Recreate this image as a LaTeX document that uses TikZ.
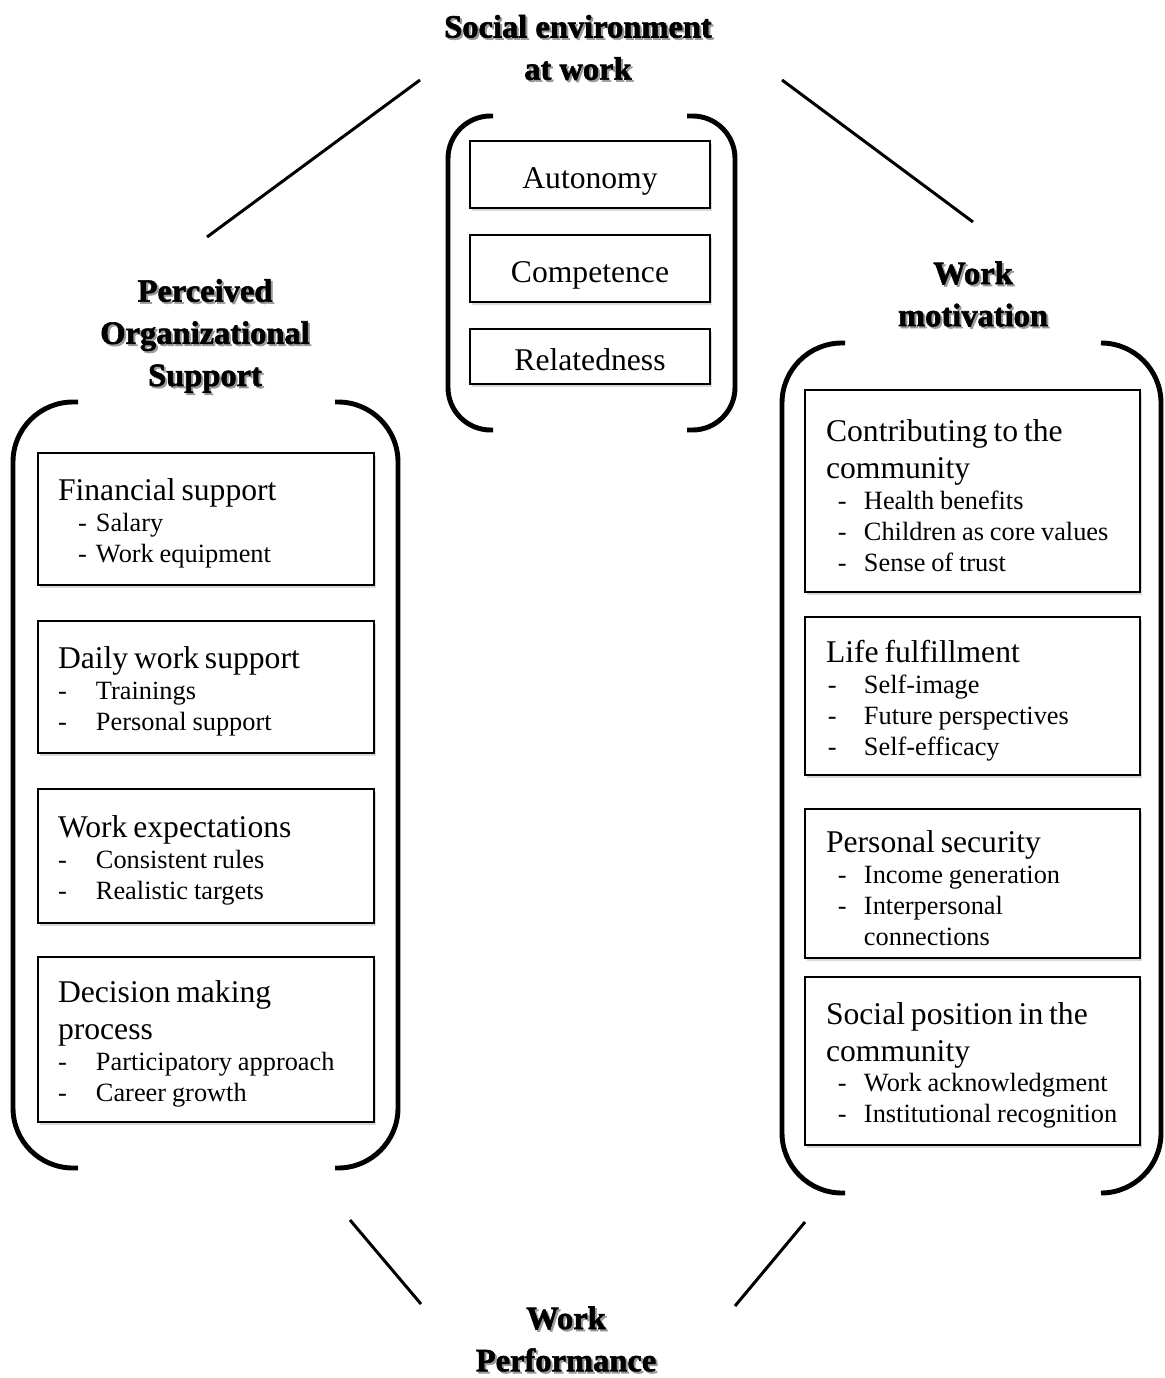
\documentclass[tikz,border=0pt]{standalone}
\usepackage{fontspec}
\setmainfont{Liberation Serif}
\newfontfamily\headfont{Liberation Serif Bold}[FakeBold=1.8]
\usetikzlibrary{shadows}
\newcommand{\boxtitle}[1]{{\fontsize{18}{21}\selectfont #1\par}\fontsize{15}{17.6}\selectfont}
\newcommand{\itm}[2][0pt]{\noindent\makebox[0pt][l]{\hspace*{#1}-}\hspace*{21.6pt}\mbox{#2}\par}
\newcommand{\itmcont}[1]{\noindent\hspace*{21.6pt}\mbox{#1}\par}
\newcommand{\shadowhead}[3]{%
  \node[heading,text=black!40] at ([shift={(2,2)}]#2) {#3};
  \node[heading] (#1) at (#2) {#3};}
\tikzset{
  heading/.style = {font=\headfont\fontsize{18.5}{24}\selectfont, align=center},
  bracket/.style = {line width=2.8pt},
  link/.style = {line width=1.7pt},
  framebox/.style = {draw, line width=0.8pt, fill=white,
    drop shadow={shadow xshift=1.2pt, shadow yshift=-1.5pt, opacity=0.3}},
  needbox/.style = {framebox, minimum width=4.8cm, text height=16pt, text depth=0pt,
    font=\fontsize{18}{21}\selectfont},
  listbox/.style = {framebox, align=left, execute at end node={\par\kern-5pt}},
  leftbox/.style = {listbox, inner xsep=0.4cm, text width=5.92cm},
  rightbox/.style = {listbox, inner xsep=0.42cm, text width=5.86cm}
}

\begin{document}
\begin{tikzpicture}[x=0.02cm,y=-0.02cm]
  \useasboundingbox (0,0) rectangle (1165,1378);
  % headings
  \shadowhead{soc}{578,47.5}{Social environment\\at work}
  \shadowhead{pos}{205,336}{Perceived\\Organizational\\Support}
  \shadowhead{wm}{973,294}{Work\\motivation}
  \shadowhead{wp}{566,1339}{Work\\Performance}
  % basic needs
  \draw[bracket,rounded corners=0.85cm] (493,116) -| (448,430) -- (493,430);
  \draw[bracket,rounded corners=0.85cm] (687,116) -| (735,430) -- (687,430);
  \node[needbox,minimum height=1.34cm] (aut) at (590,174.5) {Autonomy};
  \node[needbox,minimum height=1.34cm] (com) at (590,268.5) {Competence};
  \node[needbox,minimum height=1.1cm] (rel) at (590,356.5) {Relatedness};
  % organizational support
  \draw[bracket,rounded corners=1.2cm] (78,402) -| (13,1168) -- (78,1168);
  \draw[bracket,rounded corners=1.2cm] (335,402) -| (398,1168) -- (335,1168);
  \node[leftbox,minimum height=2.64cm] (fin) at (206,519)
    {\boxtitle{Financial support}\itm[11.4pt]{Salary}\itm[11.4pt]{Work equipment}};
  \node[leftbox,minimum height=2.64cm] (daily) at (206,687)
    {\boxtitle{Daily work support}\itm{Trainings}\itm{Personal support}};
  \node[leftbox,minimum height=2.68cm] (exp) at (206,856)
    {\boxtitle{Work expectations}\itm{Consistent rules}\itm{Realistic targets}};
  \node[leftbox,minimum height=3.3cm] (dec) at (206,1039.5)
    {\boxtitle{Decision making\newline process}\itm{Participatory approach}\itm{Career growth}};
  % motivation
  \draw[bracket,rounded corners=1.2cm] (845,343) -| (782,1193) -- (845,1193);
  \draw[bracket,rounded corners=1.2cm] (1103,343) -| (1161,1193) -- (1103,1193);
  \node[rightbox,minimum height=4.04cm] (contr) at (972.5,491)
    {\boxtitle{Contributing to the\newline community}\itm[6.8pt]{Health benefits}\itm[6.8pt]{Children as core values}\itm[6.8pt]{Sense of trust}};
  \node[rightbox,minimum height=3.16cm] (life) at (972.5,696)
    {\boxtitle{Life fulfillment}\itm[1pt]{Self-image}\itm[1pt]{Future perspectives}\itm[1pt]{Self-efficacy}};
  \node[rightbox,minimum height=2.98cm] (sec) at (972.5,883.5)
    {\boxtitle{Personal security}\itm[6.8pt]{Income generation}\itm[6.8pt]{Interpersonal}\itmcont{connections}};
  \node[rightbox,minimum height=3.36cm] (spos) at (972.5,1061)
    {\boxtitle{Social position in the\newline community}\itm[6.8pt]{Work acknowledgment}\itm[6.8pt]{Institutional recognition}};
  % links
  \coordinate (a1) at (420,80);  \coordinate (a2) at (207,237);
  \coordinate (b1) at (782,80);  \coordinate (b2) at (973,222);
  \coordinate (c1) at (350,1220); \coordinate (c2) at (421,1304);
  \coordinate (d1) at (805,1222); \coordinate (d2) at (735,1306);
  \draw[link] (a1) -- (a2);
  \draw[link] (b1) -- (b2);
  \draw[link] (c1) -- (c2);
  \draw[link] (d1) -- (d2);
\end{tikzpicture}
\end{document}
